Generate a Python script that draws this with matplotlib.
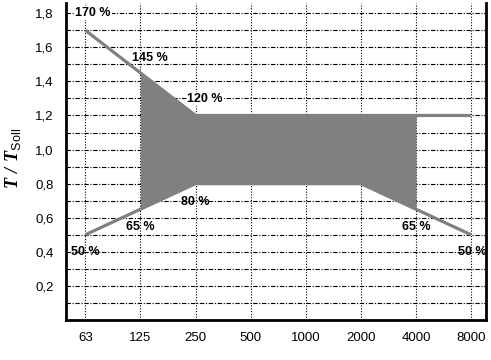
import matplotlib
matplotlib.use("Agg")
import matplotlib.pyplot as plt
import numpy as np

categories = ["63", "125", "250", "500", "1000", "2000", "4000", "8000"]
upper_line = [1.70, 1.45, 1.20, 1.20, 1.20, 1.20, 1.20, 1.20]
lower_line = [0.50, 0.65, 0.80, 0.80, 0.80, 0.80, 0.65, 0.50]
band_idx = [1, 2, 3, 4, 5, 6]   # shaded range 125 .. 4000
label_texts = ["170 %", "145 %", "120 %", "80 %", "65 %", "50 %", "65 %", "50 %"]
label_x = [-0.18, 0.855, 1.85, 1.73, 0.745, -0.255, 5.745, 6.76]
label_y = [1.80, 1.54, 1.296, 0.692, 0.546, 0.40, 0.546, 0.40]

plt.rcParams['font.family'] = ['Liberation Sans', 'DejaVu Sans']
plt.rcParams['mathtext.fontset'] = 'custom'
plt.rcParams['mathtext.bf'] = 'Liberation Serif:italic:bold'
plt.rcParams['mathtext.sf'] = 'Liberation Sans'
plt.rcParams['mathtext.rm'] = 'Liberation Sans'
fig = plt.figure(figsize=(4.91, 3.60), dpi=100)
ax = fig.add_axes([66/491, 40/360, 420/491, 317/360])

x = np.arange(len(categories))
bx = x[band_idx]
ax.fill_between(bx, [lower_line[i] for i in band_idx], [upper_line[i] for i in band_idx],
                color='#808080', linewidth=0, zorder=2)
ax.plot(x, upper_line, color='#808080', lw=2.3, zorder=3, solid_capstyle='butt')
ax.plot(x, lower_line, color='#808080', lw=2.3, zorder=3, solid_capstyle='butt')

for k, (txt, tx, ty) in enumerate(zip(label_texts, label_x, label_y)):
    bb = dict(facecolor='white', edgecolor='none', pad=0.5) if k in (0, 2) else None
    ax.text(tx, ty, txt, fontsize=9, fontweight='bold', ha='left', va='center',
            zorder=4, bbox=bb, clip_on=False)

ax.set_xlim(-0.35, 7.27)
ax.set_ylim(0, 1.86)
ax.set_xticks(x)
ax.set_xticklabels(categories)
yt = np.arange(0.2, 1.81, 0.2)
ax.set_yticks(yt)
ax.set_yticklabels([f"{v:.1f}".replace('.', ',') for v in yt])
ax.tick_params(length=0, labelsize=9.5)
ax.tick_params(axis='y', pad=9)
ax.tick_params(axis='x', pad=8.5)

for v in np.arange(0.1, 1.81, 0.1):
    ax.axhline(v, color='black', lw=0.8, ls=(0, (4, 1.5, 1, 1.5)), zorder=1)
for xi in x:
    ax.axvline(xi, color='black', lw=0.8, ls=(0, (1, 1.5)), zorder=1)

for s in ['left', 'bottom', 'right']:
    ax.spines[s].set_linewidth(2)
ax.spines['top'].set_visible(False)

fig.text(13/491, 1 - 158/360, r"$\mathbf{T\ /\ T}_{\mathsf{Soll}}$",
         rotation=90, ha='center', va='center', fontsize=13)

fig.savefig("out.png", dpi=100)
